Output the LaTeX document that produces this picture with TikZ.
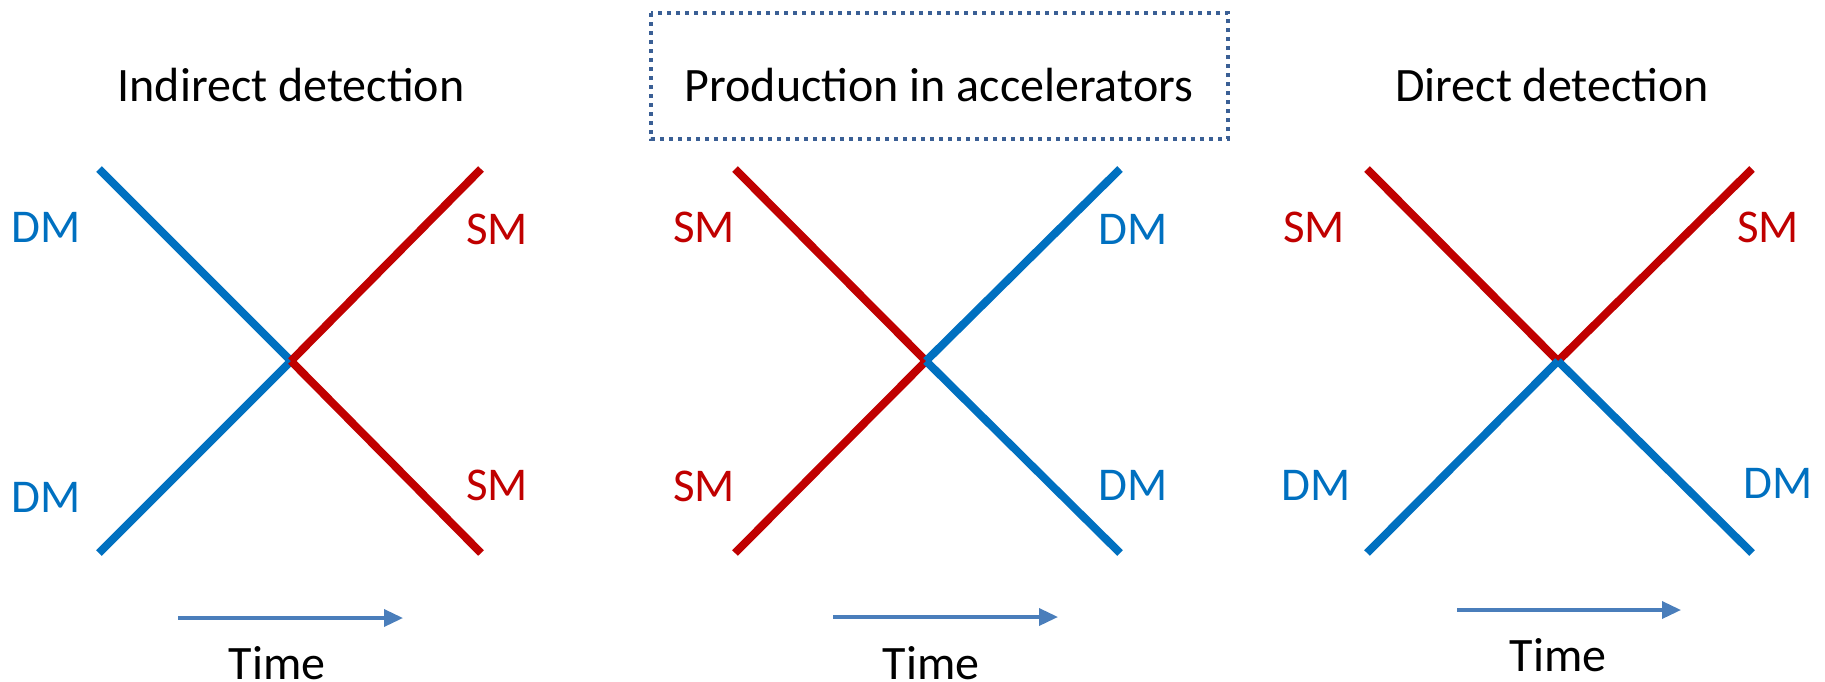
\documentclass[tikz,border=0pt]{standalone}
\usepackage{fontspec}
\setmainfont{Carlito}
\usetikzlibrary{arrows.meta}
\definecolor{dmblue}{HTML}{0070C0}
\definecolor{smred}{HTML}{C00000}
\definecolor{timeblue}{HTML}{4A7EBB}
\definecolor{boxblue}{HTML}{3A5F95}
\tikzset{
  dmline/.style={draw=dmblue, line width=8pt},
  smline/.style={draw=smred, line width=8pt},
  dmlabel/.style={text=dmblue, font=\fontsize{47}{50}\selectfont, inner sep=0pt},
  smlabel/.style={text=smred, font=\fontsize{47}{50}\selectfont, inner sep=0pt},
  title/.style={font=\fontsize{48}{52}\selectfont, inner sep=0pt},
  timelabel/.style={font=\fontsize{48}{52}\selectfont, inner sep=0pt},
  timearrow/.style={draw=timeblue, line width=3.5pt, -{Triangle[length=19pt,width=17pt]}},
  dotbox/.style={draw=boxblue, line width=4pt, dash pattern=on 4pt off 5pt}
}
\begin{document}
\begin{tikzpicture}[x=1pt,y=-1pt]
\useasboundingbox (0,0) rectangle (1825,681);

% ---- Indirect detection: DM DM -> SM SM
\coordinate (v1) at (291,361);
\coordinate (a1tl) at (99,169);
\coordinate (a1bl) at (99,553);
\coordinate (a1tr) at (481,169);
\coordinate (a1br) at (481,553);
\draw[dmline] (a1tl) -- (v1);
\draw[dmline] (a1bl) -- (v1);
\draw[smline] (v1) -- (a1tr);
\draw[smline] (v1) -- (a1br);
\node[title] (t1) at (291,85) {Indirect detection};
\node[dmlabel] (l1tl) at (46,227) {DM};
\node[dmlabel] (l1bl) at (46,497) {DM};
\node[smlabel] (l1tr) at (497,229) {SM};
\node[smlabel] (l1br) at (497,485) {SM};
\coordinate (s1) at (178,618);
\coordinate (e1) at (403,618);
\draw[timearrow] (s1) -- (e1);
\node[timelabel] (time1) at (277,663) {Time};

% ---- Production in accelerators: SM SM -> DM DM
\coordinate (v2) at (926,361);
\coordinate (a2tl) at (735,169);
\coordinate (a2bl) at (735,553);
\coordinate (a2tr) at (1120,169);
\coordinate (a2br) at (1120,553);
\draw[smline] (a2tl) -- (v2);
\draw[smline] (a2bl) -- (v2);
\draw[dmline] (v2) -- (a2tr);
\draw[dmline] (v2) -- (a2br);
\node[title] (t2) at (939,85) {Production in accelerators};
\draw[dotbox] (651,13) rectangle (1228,139);
\node[smlabel] (l2tl) at (704,227) {SM};
\node[smlabel] (l2bl) at (704,486) {SM};
\node[dmlabel] (l2tr) at (1133,229) {DM};
\node[dmlabel] (l2br) at (1133,485) {DM};
\coordinate (s2) at (833,617);
\coordinate (e2) at (1058,617);
\draw[timearrow] (s2) -- (e2);
\node[timelabel] (time2) at (931,663) {Time};

% ---- Direct detection: SM DM -> SM DM
\coordinate (v3) at (1558,361);
\coordinate (a3tl) at (1367,169);
\coordinate (a3bl) at (1367,553);
\coordinate (a3tr) at (1752,169);
\coordinate (a3br) at (1752,553);
\draw[smline] (a3tl) -- (v3);
\draw[smline] (v3) -- (a3tr);
\draw[dmline] (a3bl) -- (v3);
\draw[dmline] (v3) -- (a3br);
\node[title] (t3) at (1552,85) {Direct detection};
\node[smlabel] (l3tl) at (1314,227) {SM};
\node[dmlabel] (l3bl) at (1316,485) {DM};
\node[smlabel] (l3tr) at (1768,227) {SM};
\node[dmlabel] (l3br) at (1778,483) {DM};
\coordinate (s3) at (1457,610);
\coordinate (e3) at (1681,610);
\draw[timearrow] (s3) -- (e3);
\node[timelabel] (time3) at (1558,655) {Time};
\end{tikzpicture}
\end{document}
